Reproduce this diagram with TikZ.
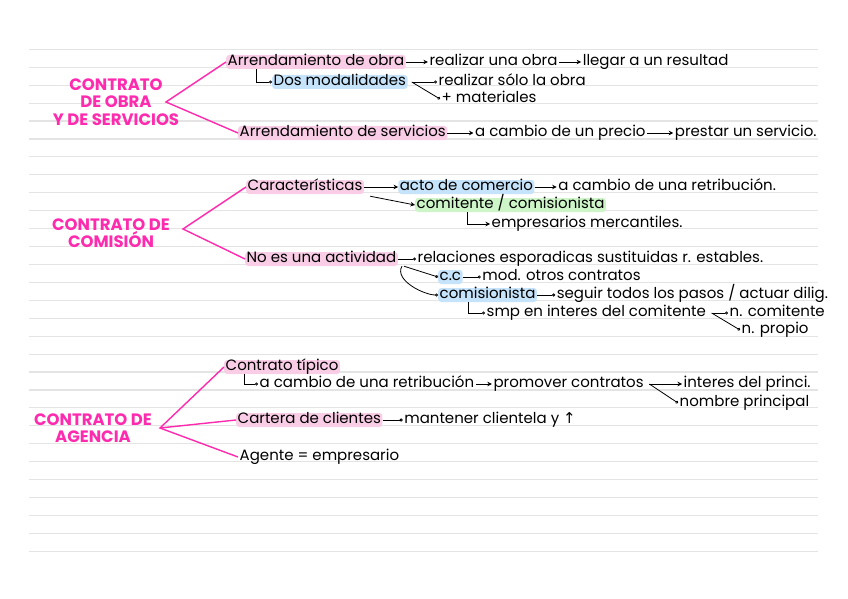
\documentclass[tikz,border=0pt]{standalone}
\usepackage{fontspec}
\setmainfont{Poppins}
\newfontfamily\symfont{DejaVu Sans}
\usetikzlibrary{arrows.meta,positioning}
\definecolor{titlepink}{HTML}{FF2AAE}
\definecolor{hlpink}{HTML}{F9CDE6}
\definecolor{hlblue}{HTML}{C5E3FA}
\definecolor{hlgreen}{HTML}{CDF5C8}
\definecolor{ruleline}{HTML}{E4E4E4}

\begin{document}
\begin{tikzpicture}[
  x=1pt, y=-1pt,
  node distance=0pt and 22pt,
  every node/.style={font=\fontsize{15}{17}\selectfont},
  note/.style={inner xsep=1.5pt, inner ysep=0.5pt, text height=10pt, text depth=3pt, anchor=west},
  markpink/.style={note, fill=hlpink, rounded corners=3pt},
  markblue/.style={note, fill=hlblue, rounded corners=3pt},
  markgreen/.style={note, fill=hlgreen, rounded corners=3pt},
  heading/.style={text=titlepink, align=center, font=\fontsize{16.5}{17.5}\selectfont\bfseries},
  bracket/.style={draw=titlepink, line width=1.4pt},
  ruled/.style={draw=ruleline, line width=1.1pt},
  arrow/.style={-{Stealth[length=4.5pt,width=4.5pt]}, line width=0.8pt},
  hook/.style={-{Circle[open,length=3pt]}, line width=0.8pt},
]
\useasboundingbox (0,0) rectangle (848,599);
% Ruled paper
\foreach \k in {0,...,28}
  \draw[ruled] (29,{49.3+17.93*\k}) -- (818,{49.3+17.93*\k});

% Contrato de obra y de servicios
\node[heading] (obra) at (116,102) {CONTRATO\\DE OBRA\\Y DE SERVICIOS};
\coordinate (vobra) at (166,102);
\node[markpink] (arrobra) at (226,62) {Arrendamiento de obra};
\node[note, right=of arrobra] (realizar) {realizar una obra};
\node[note, right=of realizar] (llegar) {llegar a un resultad};
\node[markblue] (modal) at (272,82) {Dos modalidades};
\node[note] (solo) at (437,82) {realizar sólo la obra};
\node[note] (mater) at (440,99) {+ materiales};
\node[markpink] (arrserv) at (238,133) {Arrendamiento de servicios};
\node[note, right=26pt of arrserv] (precio) {a cambio de un precio};
\node[note, right=26pt of precio] (prestar) {prestar un servicio.};

% Contrato de comision
\node[heading] (comision) at (111,233) {CONTRATO DE\\COMISIÓN};
\coordinate (vcomision) at (183,229);
\node[markpink] (caract) at (246,187) {Características};
\node[markblue, right=34pt of caract] (acto) {acto de comercio};
\node[note, right=of acto] (retrib) {a cambio de una retribución.};
\node[markgreen] (comit) at (415,205) {comitente / comisionista};
\node[note] (empres) at (490,224) {empresarios mercantiles.};
\node[markpink] (noes) at (245,259) {No es una actividad};
\node[note, right=18pt of noes] (relac) {relaciones esporadicas sustituidas r. estables.};
\node[markblue] (cc) at (438,277) {c.c};
\node[note, right=18pt of cc] (modot) {mod. otros contratos};
\node[markblue] (comisio) at (438,295) {comisionista};
\node[note, right=18pt of comisio] (seguir) {seguir todos los pasos / actuar dilig.};
\node[note] (smp) at (485,313) {smp en interes del comitente};
\node[note] (ncomit) at (728,313) {n. comitente};
\node[note] (npropio) at (740,330) {n. propio};

% Contrato de agencia
\node[heading] (agencia) at (93,428) {CONTRATO DE\\AGENCIA};
\coordinate (vagencia) at (160,428);
\node[markpink] (tipico) at (224,367) {Contrato típico};
\node[note] (acambio) at (258,384) {a cambio de una retribución};
\node[note, right=16pt of acambio] (promover) {promover contratos};
\node[note] (interes) at (682,384) {interes del princi.};
\node[note] (nombre) at (678,403) {nombre principal};
\node[markpink] (cartera) at (236,420) {Cartera de clientes};
\node[note, right=20pt of cartera] (mantener) {mantener clientela y {\symfont ↑}};
\node[note] (agente) at (238,457) {Agente = empresario};

% Brackets
\draw[bracket] (arrobra.west) -- (vobra) -- (arrserv.west);
\draw[bracket] (caract.west) -- (vcomision) -- (noes.west);
\draw[bracket] (tipico.west) -- (vagencia) -- (agente.west);
\draw[bracket] (vagencia) -- (cartera.west);

% Arrows
\draw[arrow] (arrobra) -- (realizar);
\draw[arrow] (realizar) -- (llegar);
\draw[hook] ([xshift=30pt]arrobra.south west) |- (modal.west);
\draw[hook] ([xshift=4pt]modal.east) -- (solo.west);
\draw[hook] ([xshift=4pt]modal.east) -- (mater.west);
\draw[arrow] (arrserv) -- (precio);
\draw[arrow] (precio) -- (prestar);
\draw[arrow] (caract) -- (acto);
\draw[arrow] (acto) -- (retrib);
\draw[arrow] ([xshift=6pt,yshift=-2pt]caract.south east) -- (comit.west);
\draw[arrow] ([xshift=52pt]comit.south west) |- (empres.west);
\draw[hook] (noes) -- (relac);
\draw[hook] ([xshift=6pt]noes.south east) -- (cc.west);
\draw[hook] ([xshift=4pt]noes.south east) .. controls +(-8,14) and +(-14,0) .. (comisio.west);
\draw[hook] (cc) -- (modot);
\draw[hook] (comisio) -- (seguir);
\draw[hook] ([xshift=30pt]comisio.south west) |- (smp.west);
\draw[hook] ([xshift=4pt]smp.east) -- (ncomit.west);
\draw[hook] ([xshift=4pt]smp.east) -- (npropio.west);
\draw[hook] ([xshift=20pt]tipico.south west) |- (acambio.west);
\draw[arrow] (acambio) -- (promover);
\draw[arrow] ([xshift=4pt]promover.east) -- (interes.west);
\draw[hook] ([xshift=4pt]promover.east) -- (nombre.west);
\draw[hook] (cartera) -- (mantener);
\end{tikzpicture}
\end{document}
